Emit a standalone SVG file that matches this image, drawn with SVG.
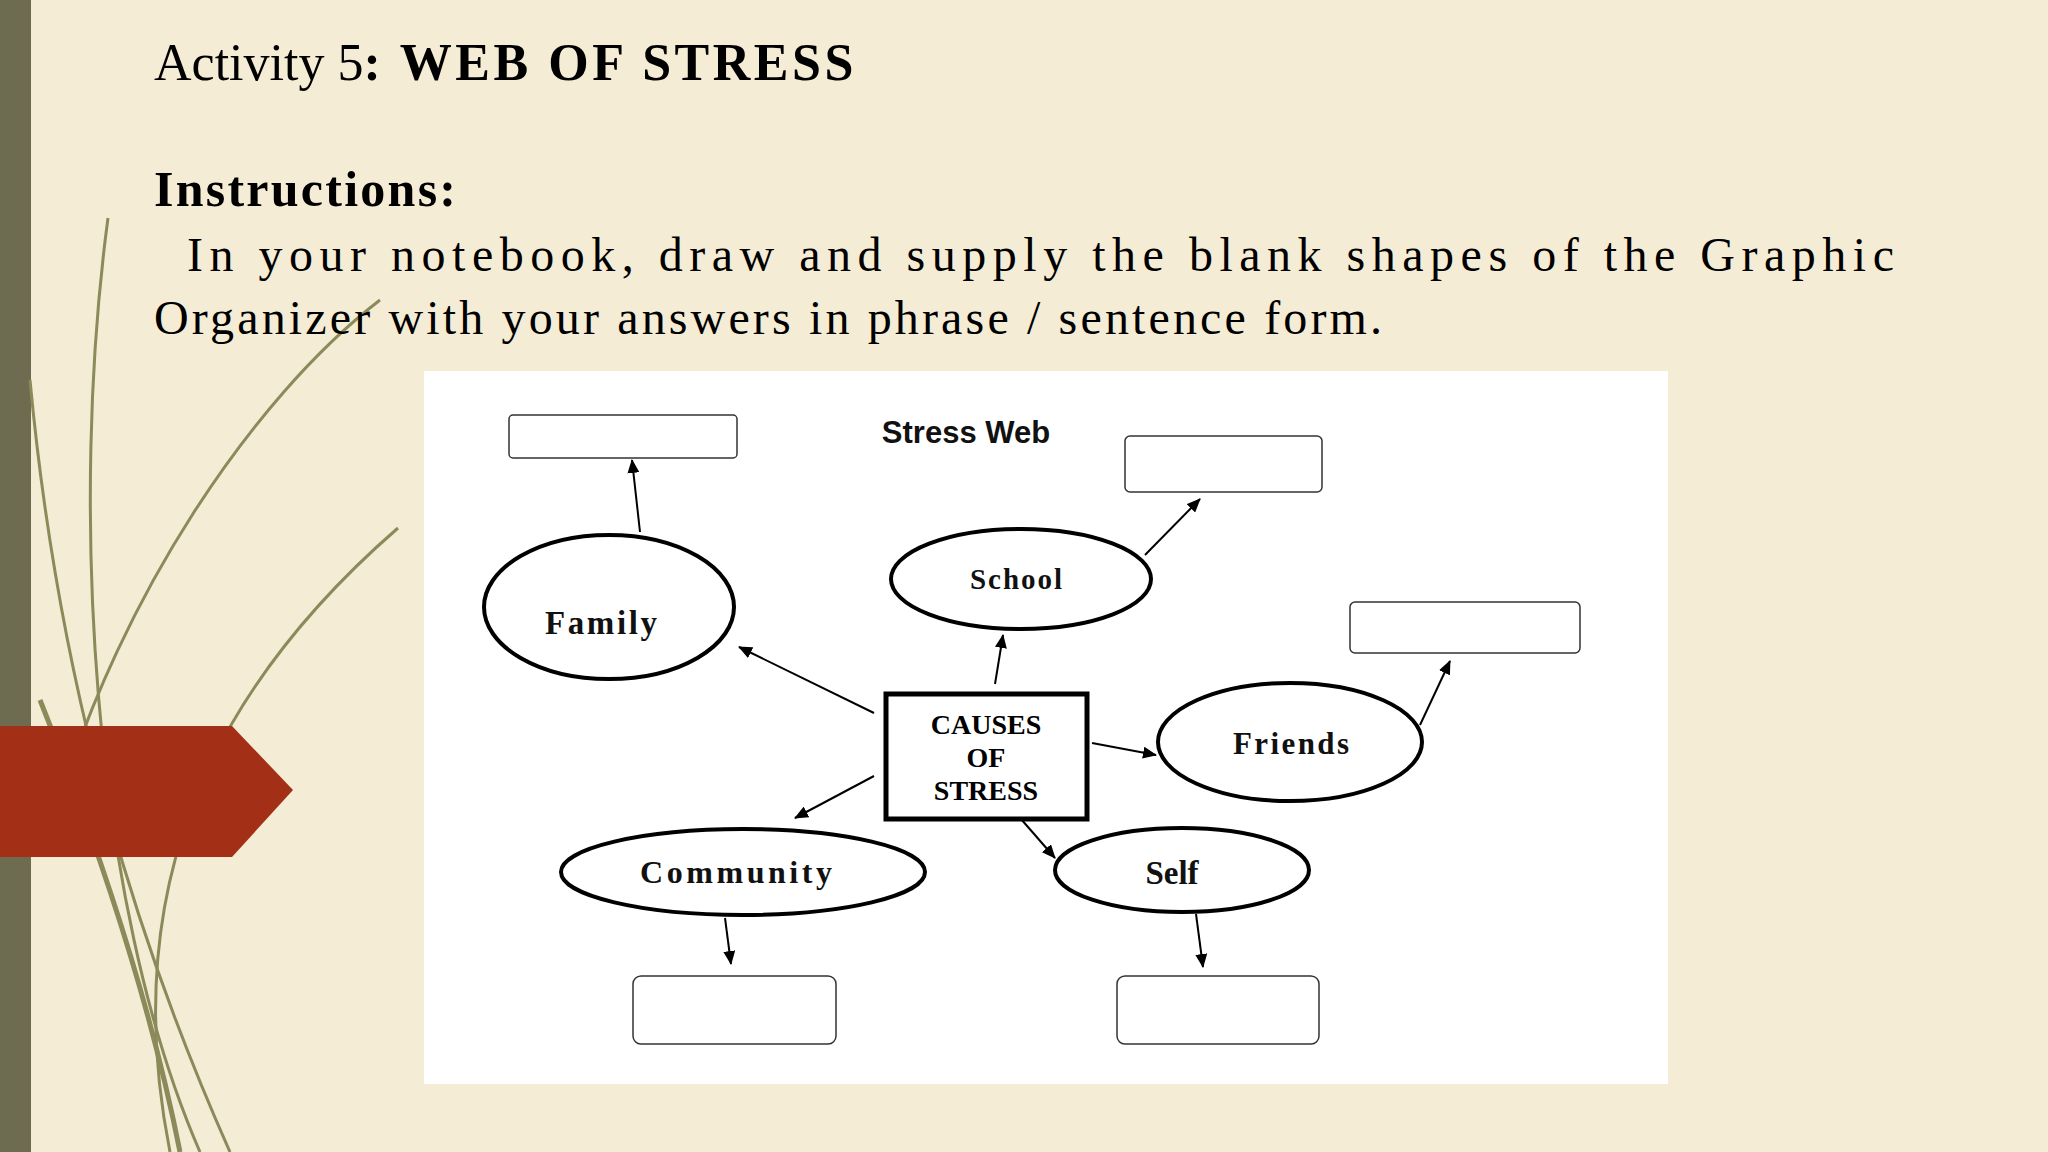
<svg xmlns="http://www.w3.org/2000/svg" width="2048" height="1152" viewBox="0 0 2048 1152">
<defs>
<marker id="ah" markerWidth="14" markerHeight="12" refX="13" refY="6" orient="auto" markerUnits="userSpaceOnUse"><path d="M0,0 L14,6 L0,12 z" fill="#000"/></marker>
<style>
.t{font-family:"Liberation Serif",serif;fill:#000}
.lbl{font-family:"Liberation Serif",serif;font-weight:bold;fill:#111;text-anchor:middle}
.el{fill:#fff;stroke:#000;stroke-width:4}
.bx{fill:#fff;stroke:#333;stroke-width:1.5}
.cn line{stroke:#000;stroke-width:2;marker-end:url(#ah)}
.dec{fill:none;stroke:#8a8a5a;stroke-width:3}
</style>
</defs>
<rect width="2048" height="1152" fill="#f5ecd5"/>
<rect width="31" height="1152" fill="#6e6c50"/>
<g class="dec">
<path d="M108,218 C70,500 90,900 200,1152"/>
<path d="M398,528 C200,700 120,900 170,1152"/>
<path d="M30,380 C60,700 140,950 230,1152"/>
<path d="M40,700 C100,850 150,1000 180,1152" stroke-width="5"/>
<path d="M380,300 C250,400 120,600 60,800"/>
</g>
<path d="M0,726 H232 L293,790 L232,857 H0 Z" fill="#a33016"/>
<text class="t" x="154" y="80" font-size="52">Activity 5<tspan font-weight="bold" textLength="490">:  WEB OF STRESS</tspan></text>
<text class="t" x="154" y="206" font-size="50" font-weight="bold" textLength="302">Instructions:</text>
<text class="t" x="187" y="271" font-size="48" textLength="1707" lengthAdjust="spacing">In your notebook, draw and supply the blank shapes of the Graphic</text>
<text class="t" x="154" y="334" font-size="48" textLength="1228" lengthAdjust="spacing">Organizer with your answers in phrase / sentence form.</text>
<rect x="424" y="371" width="1244" height="713" fill="#fff"/>
<text class="lbl" x="966" y="443" font-size="31" style="font-family:'Liberation Sans',sans-serif">Stress Web</text>
<g class="cn">
<line x1="640" y1="532" x2="632" y2="460"/>
<line x1="1145" y1="555" x2="1200" y2="499"/>
<line x1="1420" y1="725" x2="1450" y2="661"/>
<line x1="725" y1="918" x2="731" y2="964"/>
<line x1="1196" y1="914" x2="1203" y2="967"/>
<line x1="874" y1="713" x2="739" y2="647"/>
<line x1="995" y1="684" x2="1003" y2="635"/>
<line x1="1092" y1="743" x2="1156" y2="755"/>
<line x1="874" y1="776" x2="795" y2="818"/>
<line x1="1021" y1="819" x2="1055" y2="858"/>
</g>
<g id="box-family"><rect class="bx" x="509" y="415" width="228" height="43" rx="4"/></g>
<g id="box-school"><rect class="bx" x="1125" y="436" width="197" height="56" rx="5"/></g>
<g id="box-friends"><rect class="bx" x="1350" y="602" width="230" height="51" rx="5"/></g>
<g id="box-community"><rect class="bx" x="633" y="976" width="203" height="68" rx="8"/></g>
<g id="box-self"><rect class="bx" x="1117" y="976" width="202" height="68" rx="8"/></g>
<g id="family"><ellipse class="el" cx="609" cy="607" rx="125" ry="72"/><text class="lbl" x="601" y="634" font-size="33" textLength="112">Family</text></g>
<g id="school"><ellipse class="el" cx="1021" cy="579" rx="130" ry="50"/><text class="lbl" x="1016" y="589" font-size="29" textLength="92">School</text></g>
<g id="friends"><ellipse class="el" cx="1290" cy="742" rx="132" ry="59"/><text class="lbl" x="1291" y="754" font-size="31" textLength="116">Friends</text></g>
<g id="community"><ellipse class="el" cx="743" cy="872" rx="182" ry="43"/><text class="lbl" x="736" y="883" font-size="32" textLength="192">Community</text></g>
<g id="self"><ellipse class="el" cx="1182" cy="870" rx="127" ry="42"/><text class="lbl" x="1172" y="884" font-size="33">Self</text></g>
<g id="causes"><rect x="886" y="694" width="201" height="125" fill="#fff" stroke="#000" stroke-width="5"/>
<text class="t" text-anchor="middle" font-size="28" font-weight="bold" fill="#222"><tspan x="986" y="734">CAUSES</tspan><tspan x="986" y="767">OF</tspan><tspan x="986" y="800">STRESS</tspan></text></g>
</svg>
